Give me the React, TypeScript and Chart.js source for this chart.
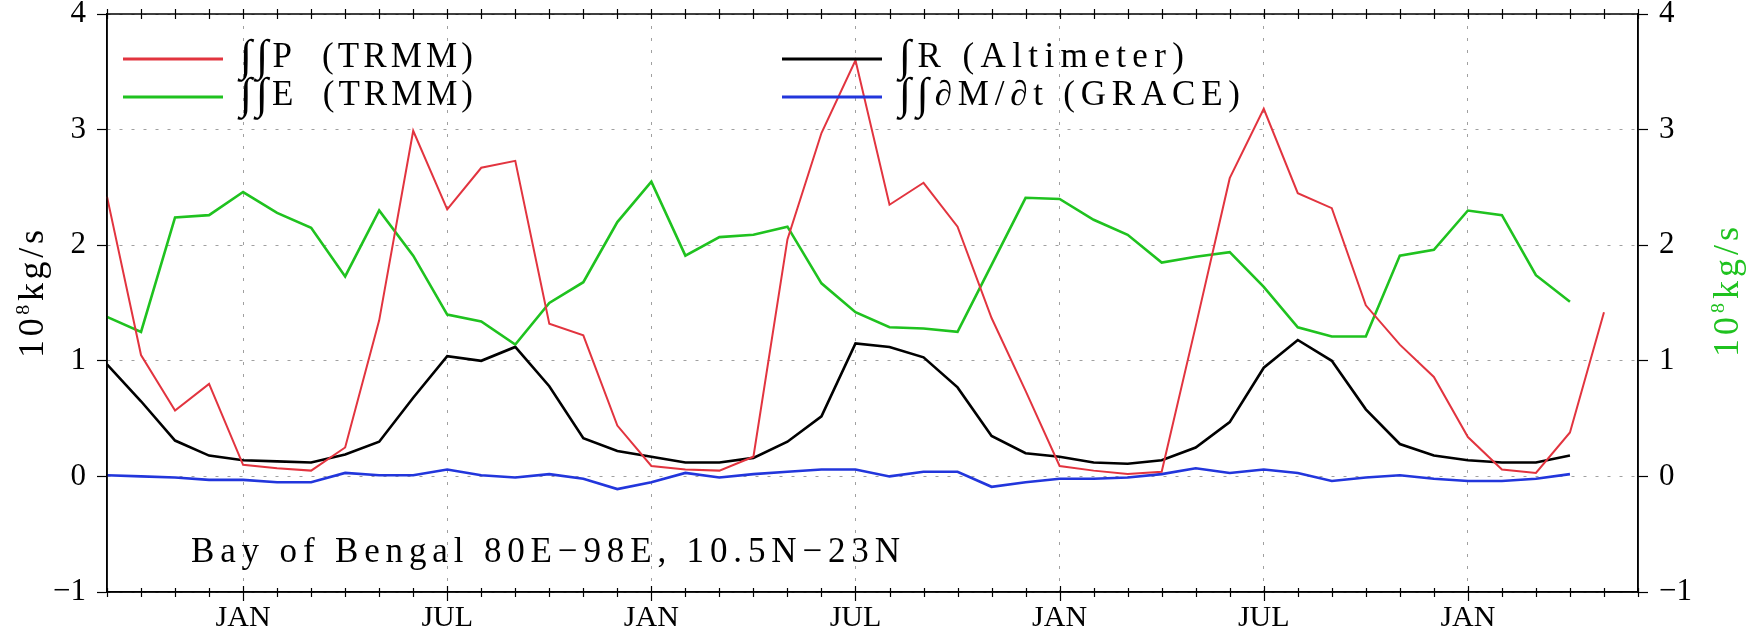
import React, { useEffect, useRef } from 'react';
import { Chart, registerables } from 'chart.js';

Chart.register(...registerables);

// ---------- data ----------
const months = [
  'SEP', 'OCT', 'NOV', 'DEC',
  'JAN', 'FEB', 'MAR', 'APR', 'MAY', 'JUN', 'JUL', 'AUG', 'SEP', 'OCT', 'NOV', 'DEC',
  'JAN', 'FEB', 'MAR', 'APR', 'MAY', 'JUN', 'JUL', 'AUG', 'SEP', 'OCT', 'NOV', 'DEC',
  'JAN', 'FEB', 'MAR', 'APR', 'MAY', 'JUN', 'JUL', 'AUG', 'SEP', 'OCT', 'NOV', 'DEC',
  'JAN', 'FEB', 'MAR', 'APR', 'MAY', 'JUN',
];
const labelledMonths = ['JAN', 'JUL'];

const precipTRMM = [
  2.42, 1.05, 0.57, 0.80, 0.10, 0.07, 0.05, 0.25, 1.35, 2.99, 2.31, 2.67, 2.73, 1.32, 1.22,
  0.44, 0.09, 0.06, 0.05, 0.17, 2.05, 2.97, 3.60, 2.35, 2.54, 2.16, 1.37, 0.74, 0.09, 0.05,
  0.02, 0.04, 1.30, 2.58, 3.18, 2.45, 2.32, 1.48, 1.14, 0.86, 0.34, 0.06, 0.03, 0.38, 1.42,
];
const evapTRMM = [
  1.38, 1.25, 2.24, 2.26, 2.46, 2.28, 2.15, 1.73, 2.30, 1.91, 1.40, 1.34, 1.14, 1.50, 1.68,
  2.20, 2.55, 1.91, 2.07, 2.09, 2.16, 1.67, 1.42, 1.29, 1.28, 1.25, 1.83, 2.41, 2.40, 2.22,
  2.09, 1.85, 1.90, 1.94, 1.64, 1.29, 1.21, 1.21, 1.91, 1.96, 2.30, 2.26, 1.74, 1.51,
];
const runoffAltimeter = [
  0.97, 0.65, 0.31, 0.18, 0.14, 0.13, 0.12, 0.19, 0.30, 0.68, 1.04, 1.00, 1.12, 0.78, 0.33,
  0.22, 0.17, 0.12, 0.12, 0.16, 0.30, 0.52, 1.15, 1.12, 1.03, 0.77, 0.35, 0.20, 0.17, 0.12,
  0.11, 0.14, 0.25, 0.47, 0.94, 1.18, 1.00, 0.58, 0.28, 0.18, 0.14, 0.12, 0.12, 0.18,
];
const storageGRACE = [
  0.01, 0.00, -0.01, -0.03, -0.03, -0.05, -0.05, 0.03, 0.01, 0.01, 0.06, 0.01, -0.01, 0.02, -0.02,
  -0.11, -0.05, 0.03, -0.01, 0.02, 0.04, 0.06, 0.06, 0.00, 0.04, 0.04, -0.09, -0.05, -0.02, -0.02,
  -0.01, 0.02, 0.07, 0.03, 0.06, 0.03, -0.04, -0.01, 0.01, -0.02, -0.04, -0.04, -0.02, 0.02,
];

const seriesLabels = ['∫∫P  (TRMM)', '∫∫E  (TRMM)', '∫R (Altimeter)', '∫∫∂M/∂t (GRACE)'];
const seriesColors = ['#e2343f', '#1fc21f', '#000000', '#2236dc'];
const axisTitle = '10⁸kg/s';
const regionNote = 'Bay of Bengal 80E−98E, 10.5N−23N';
const yMin = -1;
const yMax = 4;

// ---------- helpers ----------
const SERIF = '"Liberation Serif", "DejaVu Serif", serif';

function drawSpaced(ctx: CanvasRenderingContext2D, text: string, x: number, y: number, width: number, size: number) {
  const chars = Array.from(text);
  const fontFor = (c: string) => (c === '∫' ? `italic ${Math.round(size * 1.25)}px ${SERIF}` : `${size}px ${SERIF}`);
  const widths = chars.map((c) => {
    ctx.font = fontFor(c);
    return ctx.measureText(c).width;
  });
  const total = widths.reduce((a, b) => a + b, 0);
  const gap = chars.length > 1 ? (width - total) / (chars.length - 1) : 0;
  let cx = x;
  chars.forEach((c, i) => {
    ctx.font = fontFor(c);
    ctx.fillText(c, cx, c === '∫' ? y + size * 0.08 : y);
    cx += widths[i] + gap;
  });
}

function drawUnitTitle(ctx: CanvasRenderingContext2D, cx: number, cy: number, color: string, size: number, length: number) {
  // "10⁸kg/s" rotated, with a raised small 8
  const parts = Array.from(axisTitle).map((c) =>
    c === '⁸' ? { ch: '8', size: size * 0.55, dy: -size * 0.38 } : { ch: c, size, dy: 0 }
  );
  ctx.save();
  ctx.translate(cx, cy);
  ctx.rotate(-Math.PI / 2);
  ctx.fillStyle = color;
  ctx.textBaseline = 'alphabetic';
  ctx.textAlign = 'left';
  const widths = parts.map((p) => {
    ctx.font = `${p.size}px ${SERIF}`;
    return ctx.measureText(p.ch).width;
  });
  const total = widths.reduce((a, b) => a + b, 0);
  const gap = (length - total) / (parts.length - 1);
  let x = -length / 2;
  parts.forEach((p, i) => {
    ctx.font = `${p.size}px ${SERIF}`;
    ctx.fillText(p.ch, x, size * 0.33 + p.dy);
    x += widths[i] + gap;
  });
  ctx.restore();
}

const decorPlugin = {
  id: 'decor',
  beforeDraw(chart: any) {
    const { ctx } = chart;
    ctx.save();
    ctx.fillStyle = '#ffffff';
    ctx.fillRect(0, 0, chart.width, chart.height);
    ctx.restore();
  },
  afterDraw(chart: any) {
    const { ctx, chartArea: a } = chart;
    const xs = chart.scales.x;
    ctx.save();
    // frame
    ctx.strokeStyle = '#000';
    ctx.lineWidth = 1.5;
    ctx.strokeRect(a.left, a.top, a.right - a.left, a.bottom - a.top);
    // month crosses on top and bottom
    ctx.lineWidth = 1.2;
    months.forEach((m, i) => {
      const px = Math.round(xs.getPixelForValue(i)) + 0.5;
      const major = labelledMonths.includes(m);
      ctx.beginPath();
      ctx.moveTo(px, a.bottom - (major ? 6 : 4));
      ctx.lineTo(px, a.bottom + (major ? 9 : 5));
      ctx.moveTo(px, a.top - 5);
      ctx.lineTo(px, a.top + 5);
      ctx.stroke();
    });
    // legend
    const slots = [
      { x: 123, y: 59, w: 233 },
      { x: 123, y: 97, w: 233 },
      { x: 782, y: 59, w: 285 },
      { x: 782, y: 97, w: 341 },
    ];
    chart.data.datasets.forEach((ds: any, k: number) => {
      const s = slots[k];
      ctx.strokeStyle = ds.borderColor;
      ctx.lineWidth = 3;
      ctx.beginPath();
      ctx.moveTo(s.x, s.y);
      ctx.lineTo(s.x + 100, s.y);
      ctx.stroke();
      ctx.fillStyle = '#000';
      ctx.textBaseline = 'alphabetic';
      ctx.textAlign = 'left';
      drawSpaced(ctx, ds.label, s.x + 117, s.y + 8, s.w, 35);
    });
    // region note
    ctx.fillStyle = '#000';
    drawSpaced(ctx, regionNote, 191, 562, 709, 35);
    // axis titles
    drawUnitTitle(ctx, 31, 294, '#000', 36, 128);
    drawUnitTitle(ctx, 1726, 292, seriesColors[1], 36, 130);
    ctx.restore();
  },
};

const noPad = (s: any) => {
  s.paddingTop = 0;
  s.paddingBottom = 0;
};

export default function App() {
  const canvasRef = useRef<HTMLCanvasElement | null>(null);

  useEffect(() => {
    if (!canvasRef.current) return;
    const tickFont = { family: SERIF, size: 31, lineHeight: 1 };
    const gridGrey = '#a0a0a0';
    const fmt = (v: any) => (Number(v) < 0 ? '−' + Math.abs(Number(v)) : String(v));
    const chart = new Chart(canvasRef.current, {
      type: 'line',
      data: {
        labels: months,
        datasets: [
          { label: seriesLabels[0], data: precipTRMM, borderColor: seriesColors[0], borderWidth: 2, yAxisID: 'y' },
          { label: seriesLabels[1], data: evapTRMM, borderColor: seriesColors[1], borderWidth: 2.6, yAxisID: 'y2' },
          { label: seriesLabels[2], data: runoffAltimeter, borderColor: seriesColors[2], borderWidth: 2.6, yAxisID: 'y' },
          { label: seriesLabels[3], data: storageGRACE, borderColor: seriesColors[3], borderWidth: 2.6, yAxisID: 'y' },
        ].map((d) => ({ ...d, pointRadius: 0, tension: 0, fill: false, backgroundColor: d.borderColor })),
      },
      options: {
        responsive: false,
        animation: false,
        devicePixelRatio: 1,
        layout: { padding: { top: 14, left: 0, right: 0, bottom: 0 } },
        plugins: { legend: { display: false }, tooltip: { enabled: false } },
        scales: {
          x: {
            type: 'category',
            offset: false,
            afterFit: (s: any) => { s.height = 42; s.paddingLeft = 0; s.paddingRight = 0; },
            ticks: {
              autoSkip: false,
              maxRotation: 0,
              padding: 8,
              color: '#000',
              font: { family: SERIF, size: 30 },
              callback: (_v: any, i: number) => (labelledMonths.includes(months[i]) ? months[i] : ''),
            },
            grid: {
              drawTicks: false,
              color: (c: any) => (labelledMonths.includes(months[c.index]) ? gridGrey : 'rgba(0,0,0,0)'),
              lineWidth: 1,
            },
            border: { display: true, color: '#000', width: 1.5, dash: [3, 9] },
          },
          y: {
            position: 'left',
            min: yMin,
            max: yMax,
            afterFit: (s: any) => { s.width = 107; noPad(s); },
            ticks: { stepSize: 1, padding: 11, color: '#000', font: tickFont, callback: fmt },
            grid: { color: gridGrey, lineWidth: 1, tickLength: 10, tickColor: '#000', tickWidth: 1.2 },
            border: { display: true, color: '#000', width: 1.5, dash: [3, 9] },
          },
          y2: {
            position: 'right',
            min: yMin,
            max: yMax,
            afterFit: (s: any) => { s.width = 124; noPad(s); },
            ticks: { stepSize: 1, padding: 11, color: '#000', font: tickFont, callback: fmt },
            grid: { drawOnChartArea: false, tickLength: 10, tickColor: '#000', tickWidth: 1.2 },
            border: { display: true, color: '#000', width: 1.5 },
          },
        },
      },
      plugins: [decorPlugin],
    } as any);
    return () => chart.destroy();
  }, []);

  return (
    <div style={{ position: 'fixed', left: 0, top: 0, width: 1762, height: 634, background: '#fff' }}>
      <canvas ref={canvasRef} width={1762} height={634} style={{ display: 'block', width: 1762, height: 634 }} />
    </div>
  );
}
